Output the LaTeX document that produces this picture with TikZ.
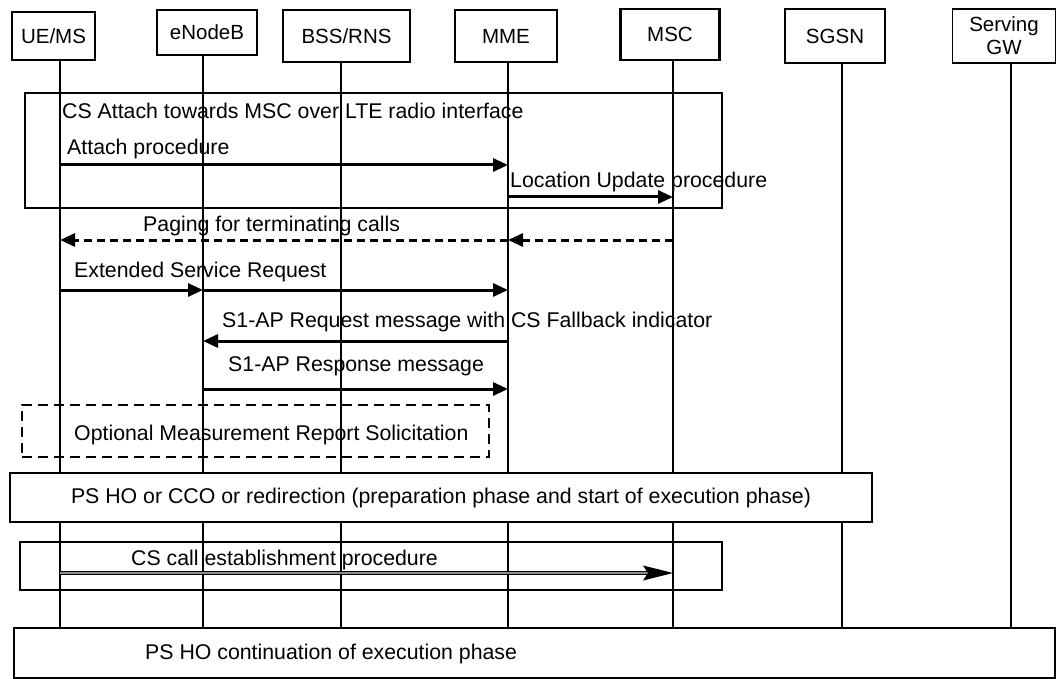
\documentclass[tikz,border=0pt]{standalone}
\usepackage{fontspec}
\setmainfont{Liberation Sans}
\usetikzlibrary{arrows.meta}
\usetikzlibrary{positioning}

\tikzset{
  entity/.style={draw, line width=#1, inner sep=0pt, align=center,
                 font=\fontsize{20.5}{23}\selectfont},
  frame/.style={draw, line width=#1, inner sep=0pt},
  lifeline/.style={line width=1.8pt},
  msg/.style={line width=3pt, -{Triangle[length=15pt,width=13pt]}},
  pmsg/.style={msg, dash pattern=on 8pt off 5pt},
  callmsg/.style={line width=1.3pt, double=black!45, double distance=2pt,
                  -{Stealth[length=30pt,width=15pt,inset=5pt]}},
  lbl/.style={anchor=base west, inner sep=0pt}
}

\begin{document}
\begin{tikzpicture}[x=1pt, y=-1pt, font=\fontsize{21.3}{25}\selectfont]
 \useasboundingbox (0,0) rectangle (1057,679);

 % entities
 \foreach \name/\x/\y/\w/\h/\lw/\txt in {ue/53.5/36/83/48/2/{UE/MS}, enb/207/32.5/100/45/1.5/eNodeB,
        bss/346.5/36/127/52/2.6/{BSS/RNS}, mme/506/36/102/52/2.6/MME, msc/670/34.5/99/51/2.6/MSC,
        sgsn/835/36/100/54/1.5/SGSN, sgw/1004/36/103/54/1.5/{Serving\\GW}} {
    \node[entity=\lw pt, minimum width=\w pt, minimum height=\h pt] (\name) at (\x,\y) {\txt};
 }

 % bottom box
 \node[frame=1.8pt, minimum width=1041pt, minimum height=50pt] (contbox) at (534.5,653) {};
 \node[lbl] (conttxt) at (145,659) {PS HO continuation of execution phase};

 % lifelines
 \foreach \name/\x in {ue/60, enb/203, bss/341, mme/508, msc/673, sgsn/842, sgw/1011} {
    \coordinate (\name-l) at (\x,0);
    \draw[lifeline] (\name.south -| \name-l) -- (\name-l |- contbox.north);
 }

 % CS attach
 \node[frame=2.6pt, minimum width=697pt, minimum height=115pt] (attachbox) at (373.5,150.5) {};
 \node[lbl] (attachtitle) at (62,119) {CS Attach towards MSC over LTE radio interface};

 \coordinate (r-attach) at (0,165);
 \node[lbl] (t-attach) at (67,155) {Attach procedure};
 \draw[msg] (ue-l |- r-attach) -- (mme-l |- r-attach);

 \coordinate (r-lu) at (0,197);
 \node[lbl] (t-lu) at (510,188) {Location Update procedure};
 \draw[msg] (mme-l |- r-lu) -- (msc-l |- r-lu);

 % paging
 \coordinate (r-page) at (0,240);
 \node[lbl] (t-page) at (143,232) {Paging for terminating calls};
 \draw[pmsg] (msc-l |- r-page) -- (mme-l |- r-page);
 \draw[pmsg] (mme-l |- r-page) -- (ue-l |- r-page);

 % service request
 \coordinate (r-esr) at (0,290);
 \node[lbl] (t-esr) at (74,277) {Extended Service Request};
 \draw[msg] (ue-l |- r-esr) -- (enb-l |- r-esr);
 \draw[msg] (enb-l |- r-esr) -- (mme-l |- r-esr);

 \coordinate (r-s1req) at (0,341);
 \node[lbl] (t-s1req) at (222,327) {S1-AP Request message with CS Fallback indicator};
 \draw[msg] (mme-l |- r-s1req) -- (enb-l |- r-s1req);

 \coordinate (r-s1rsp) at (0,389);
 \node[lbl] (t-s1rsp) at (228,371) {S1-AP Response message};
 \draw[msg] (enb-l |- r-s1rsp) -- (mme-l |- r-s1rsp);

 % optional measurement
 \node[frame=1.3pt, dash pattern=on 10pt off 6pt, minimum width=467pt, minimum height=52pt] (optbox) at (255.5,431) {};
 \node[lbl] (opttxt) at (74,440) {Optional Measurement Report Solicitation};

 % PS HO preparation
 \node[frame=2.6pt, fill=white, minimum width=862pt, minimum height=49pt] (psho) at (441,497.5)
      {PS HO or CCO or redirection (preparation phase and start of execution phase)};

 % CS call
 \node[frame=2.2pt, minimum width=702pt, minimum height=48pt] (callbox) at (371,566) {};
 \node[lbl] (t-call) at (131,565) {CS call establishment procedure};
 \coordinate (r-call) at (0,573);
 \draw[callmsg] (ue-l |- r-call) -- (msc-l |- r-call);

\end{tikzpicture}
\end{document}
